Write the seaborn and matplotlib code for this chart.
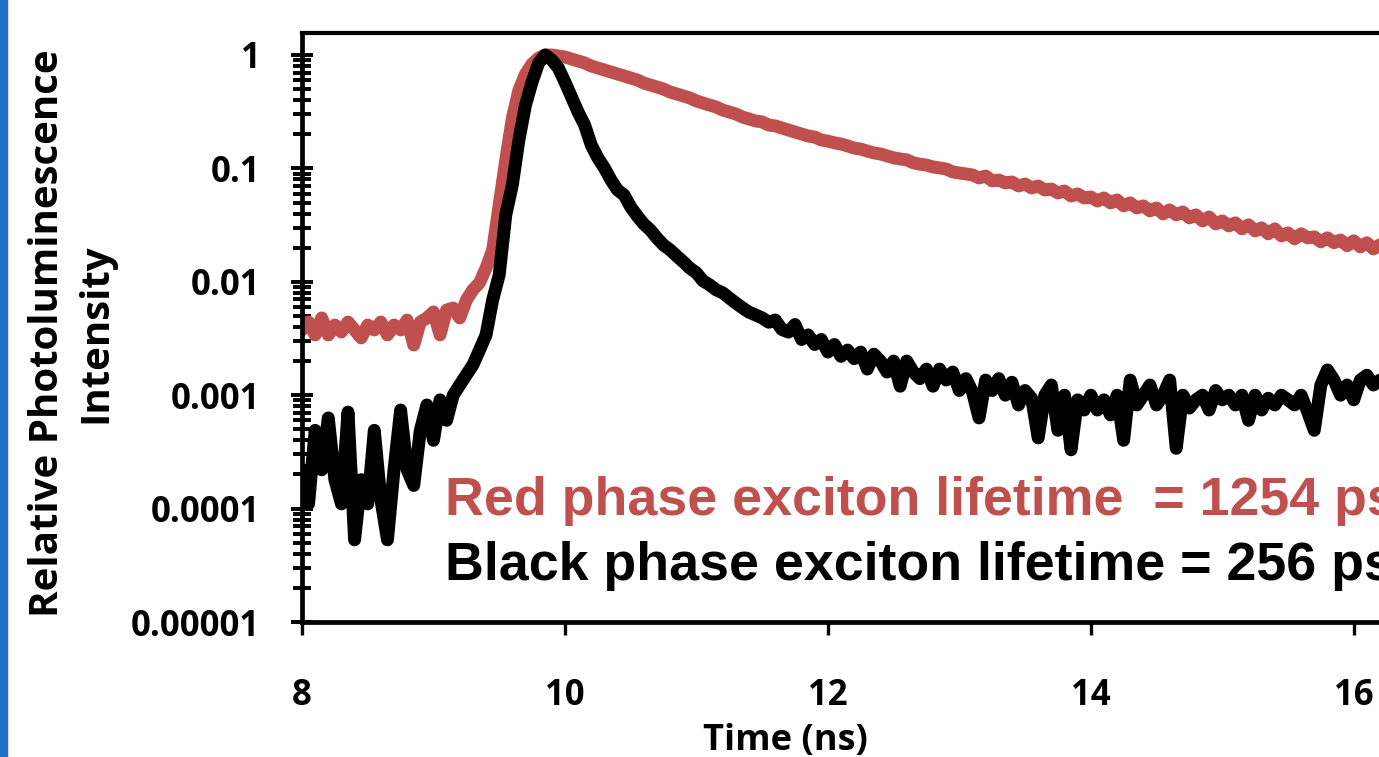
import numpy as np
import pandas as pd
import matplotlib
matplotlib.use("Agg")
import matplotlib.pyplot as plt
from matplotlib.patches import Rectangle
from matplotlib.ticker import LogLocator, NullFormatter
import seaborn as sns

# time channels (ns), 0.05 ns bins from 8.0 to 16.2
time_ns = np.round(np.arange(8.0, 16.2001, 0.05), 2)

# red phase PL decay
red_phase = [
    0.00376, 0.00442, 0.0034, 0.0048, 0.0034, 0.00416, 0.00361, 0.00442, 0.00376, 0.0032,
    0.00416, 0.00376, 0.00442, 0.0034, 0.00416, 0.00376, 0.0046, 0.00277, 0.00442, 0.0048,
    0.00542, 0.0034, 0.00564, 0.00587, 0.0048, 0.0069, 0.0085, 0.0098, 0.0132, 0.0191,
    0.0476, 0.119, 0.278, 0.491, 0.68, 0.833, 0.941, 1.0, 1.0, 0.98,
    0.96, 0.922, 0.885, 0.85, 0.80, 0.768, 0.738, 0.708, 0.68, 0.653,
    0.627, 0.602, 0.566, 0.544, 0.522, 0.501, 0.472, 0.453, 0.435, 0.418,
    0.393, 0.377, 0.362, 0.348, 0.327, 0.314, 0.302, 0.284, 0.273, 0.262,
    0.257, 0.241, 0.237, 0.227, 0.218, 0.209, 0.201, 0.193, 0.189, 0.178,
    0.174, 0.168, 0.164, 0.158, 0.151, 0.148, 0.142, 0.137, 0.134, 0.129,
    0.124, 0.121, 0.119, 0.112, 0.109, 0.107, 0.103, 0.101, 0.0988, 0.093,
    0.0911, 0.0893, 0.0875, 0.0823, 0.0857, 0.0775, 0.079, 0.0744, 0.0759, 0.070,
    0.0729, 0.0672, 0.070, 0.0645, 0.0658, 0.0607, 0.0632, 0.0571, 0.0595, 0.0549,
    0.056, 0.0516, 0.0549, 0.0496, 0.0527, 0.0467, 0.0496, 0.0448, 0.0467, 0.0422,
    0.0448, 0.0397, 0.043, 0.0389, 0.0413, 0.0366, 0.0389, 0.0344, 0.0373, 0.0324,
    0.0344, 0.0311, 0.0331, 0.0293, 0.0318, 0.0281, 0.0299, 0.0265, 0.0293, 0.0254,
    0.027, 0.0239, 0.0265, 0.0244, 0.0249, 0.0225, 0.0244, 0.0221, 0.0234, 0.0208,
    0.023, 0.0203, 0.0221, 0.0195, 0.0212,
]

# black phase PL decay
black_phase = [
    2.2e-4, 1.1e-4, 4.9e-4, 2.2e-4, 6.3e-4, 1.8e-4, 1.1e-4, 7.1e-4, 5.3e-5, 1.8e-4,
    1.1e-4, 4.9e-4, 1.2e-4, 5.3e-5, 2.2e-4, 7.4e-4, 2.2e-4, 1.6e-4, 4.9e-4, 8.2e-4,
    4.0e-4, 9.1e-4, 6.0e-4, 1.0e-3, 1.23e-3, 1.51e-3, 1.85e-3, 2.5e-3, 3.4e-3, 6.9e-3,
    0.0115, 0.0388, 0.0714, 0.178, 0.362, 0.578, 0.85, 1.0, 0.903, 0.768,
    0.578, 0.426, 0.314, 0.241, 0.161, 0.124, 0.101, 0.079, 0.0645, 0.0583,
    0.0457, 0.038, 0.0323, 0.0286, 0.0243, 0.0211, 0.0191, 0.0169, 0.015, 0.0132,
    0.012, 0.0102, 0.0094, 0.0085, 0.0080, 0.0072, 0.0065, 0.0059, 0.0054, 0.0051,
    0.0048, 0.0044, 0.0046, 0.0038, 0.0036, 0.0042, 0.0031, 0.0034, 0.0028, 0.0031,
    0.0024, 0.0028, 0.0022, 0.0025, 0.0021, 0.0024, 0.0017, 0.0023, 0.0020, 0.0016,
    0.0020, 0.0012, 0.0020, 0.0016, 0.0014, 0.0017, 0.0012, 0.0017, 0.00136, 0.0016,
    0.0011, 0.0014, 0.00107, 0.00063, 0.00136, 0.0011, 0.0014, 0.0010, 0.0013, 0.00082,
    0.0011, 0.00094, 0.00042, 0.0010, 0.00123, 0.00049, 0.0010, 0.00033, 0.00091, 0.00074,
    0.0010, 0.00074, 0.00091, 0.00067, 0.0010, 0.00040, 0.00136, 0.00082, 0.0010, 0.00123,
    0.00082, 0.0010, 0.00136, 0.00034, 0.0010, 0.00077, 0.00091, 0.0010, 0.00074, 0.0011,
    0.00091, 0.0010, 0.00082, 0.0010, 0.0006, 0.0010, 0.00074, 0.00094, 0.00082, 0.0010,
    0.00091, 0.00082, 0.0010, 0.00071, 0.00049, 0.00123, 0.00167, 0.00136, 0.0010, 0.00123,
    0.00091, 0.00136, 0.0015, 0.00123, 0.00136,
]

ytick_vals = [1, 0.1, 0.01, 0.001, 0.0001, 0.00001]
ytick_labels = ["1", "0.1", "0.01", "0.001", "0.0001", "0.00001"]
xtick_vals = [8, 10, 12, 14, 16]

red_col = "#C0504D"

df = pd.concat([
    pd.DataFrame({"t": time_ns, "I": red_phase, "phase": "Red"}),
    pd.DataFrame({"t": time_ns, "I": black_phase, "phase": "Black"}),
])

sns.set_style("ticks")
plt.rcParams["font.family"] = ["Open Sans", "DejaVu Sans"]
plt.rcParams["font.weight"] = "bold"
plt.rcParams["text.color"] = "black"
plt.rcParams["xtick.labelcolor"] = "black"
plt.rcParams["ytick.labelcolor"] = "black"

W, H = 1379, 757
fig = plt.figure(figsize=(W / 100, H / 100), dpi=100)
ax = fig.add_axes([302 / W, 1 - 622 / H, (1380 - 302) / W, (622 - 33) / H])

sns.lineplot(data=df, x="t", y="I", hue="phase", hue_order=["Red", "Black"],
             palette={"Red": red_col, "Black": "black"}, estimator=None, sort=False,
             lw=9.3, legend=False, ax=ax,
             solid_joinstyle="round", solid_capstyle="round")

ax.set_yscale("log")
ax.set_xlim(8, 16.2)
ax.set_ylim(1e-5, 1.563)
ax.set_yticks(ytick_vals, labels=ytick_labels)
ax.yaxis.set_minor_locator(LogLocator(base=10, subs=np.arange(2, 10), numticks=30))
ax.yaxis.set_minor_formatter(NullFormatter())
ax.set_xticks(xtick_vals, labels=[str(v) for v in xtick_vals])

ax.tick_params(axis="y", which="major", direction="inout", length=16, width=2.8,
               pad=22, labelsize=25, color="black", labelcolor="black")
ax.tick_params(axis="y", which="minor", direction="inout", length=13, width=2.8, color="black")
ax.tick_params(axis="x", which="major", direction="out", length=9.4, width=2.4,
               pad=31, labelsize=25, color="black", labelcolor="black")

for side in ["left", "bottom"]:
    ax.spines[side].set_linewidth(3.4)
    ax.spines[side].set_color("black")
ax.spines["top"].set_linewidth(3)
ax.spines["top"].set_color("black")
ax.spines["right"].set_visible(False)

ax.set_xlabel("")
ax.set_ylabel("")
fig.text(785 / W, 1 - 741 / H, "Time (ns)", ha="center", va="center", fontsize=26,
         color="black")
fig.text(72 / W, 1 - 333 / H, "Relative Photoluminescence\nIntensity", rotation=90,
         ha="center", va="center", multialignment="center", rotation_mode="anchor",
         fontsize=29, linespacing=1.3, color="black")

fig.text(445 / W, 1 - 515 / H, "Red phase exciton lifetime  = 1254 ps", color=red_col,
         fontsize=38.7, family=["Liberation Sans", "DejaVu Sans"], weight="bold", va="baseline")
fig.text(445 / W, 1 - 580 / H, "Black phase exciton lifetime = 256 ps", color="black",
         fontsize=38.7, family=["Liberation Sans", "DejaVu Sans"], weight="bold", va="baseline")

# blue edge bar on the left
fig.patches.append(Rectangle((0, 0), 7 / W, 1, transform=fig.transFigure,
                             color="#1F6FCB", zorder=5))

fig.savefig("out.png", dpi=100)
